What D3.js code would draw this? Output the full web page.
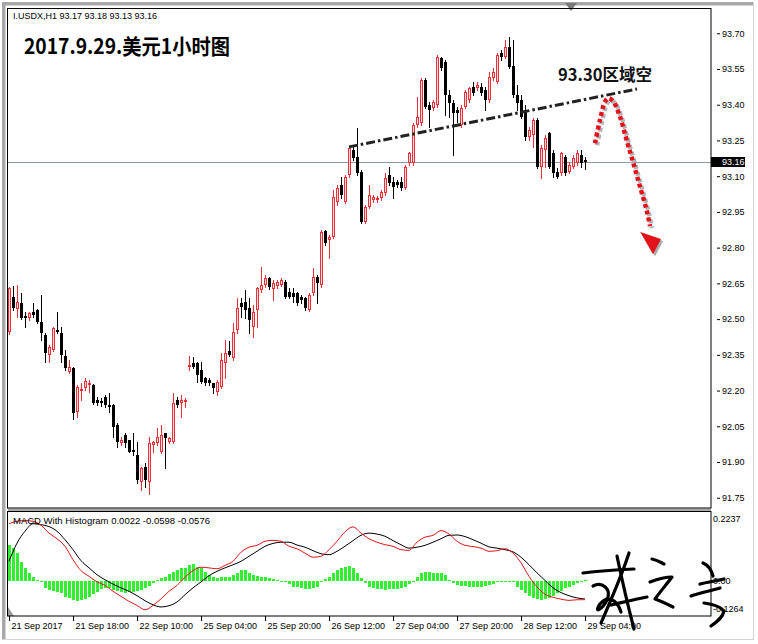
<!DOCTYPE html>
<html><head><meta charset="utf-8">
<script src="https://cdn.jsdelivr.net/npm/d3@7"></script>
<style>body{margin:0;background:#fff}svg{display:block}</style>
</head><body>
<svg id="c" width="758" height="644"></svg>
<script>
// ---------- DATA ----------
const symbolInfo = "I.USDX,H1  93.17 93.18 93.13 93.16";
const chartTitle = "2017.9.29.美元1小时图";
const noteText = "93.30区域空";
const macdLabel = "MACD With Histogram 0.0022 -0.0598 -0.0576";

const openP = [
92.447,92.594,92.542,92.567,92.513,92.504,92.531,92.539,92.489,92.434,
92.350,92.371,92.455,92.441,92.345,92.280,92.294,92.112,92.199,92.210,
92.224,92.224,92.161,92.158,92.175,92.140,92.140,92.056,91.979,92.014,
91.993,91.951,91.930,91.818,91.878,91.818,91.972,91.979,91.944,92.021,
91.986,91.986,92.161,92.147,92.154,92.298,92.315,92.315,92.287,92.252,
92.245,92.231,92.196,92.217,92.315,92.364,92.336,92.455,92.567,92.573,
92.546,92.468,92.539,92.623,92.644,92.672,92.625,92.639,92.644,92.657,
92.615,92.609,92.609,92.594,92.588,92.539,92.609,92.678,92.644,92.871,
92.832,92.846,92.993,93.063,92.993,93.105,93.210,93.182,93.119,92.909,
92.972,93.000,93.000,93.008,93.028,93.105,93.077,93.077,93.077,93.049,
93.154,93.154,93.315,93.322,93.504,93.399,93.385,93.399,93.595,93.581,
93.441,93.406,93.378,93.315,93.392,93.420,93.476,93.469,93.476,93.462,
93.420,93.511,93.497,93.616,93.602,93.644,93.563,93.441,93.420,93.378,
93.266,93.273,93.336,93.140,93.210,93.280,93.196,93.119,93.112,93.182,
93.119,93.140,93.154,93.189,93.17];
const highP = [
92.636,92.639,92.644,92.611,92.531,92.531,92.569,92.542,92.602,92.441,
92.392,92.466,92.531,92.468,92.371,92.329,92.301,92.224,92.231,92.252,
92.245,92.228,92.175,92.168,92.182,92.189,92.143,92.063,92.007,92.021,
91.993,92.021,91.986,91.881,91.895,92.007,91.990,92.043,92.056,92.023,
92.007,92.189,92.175,92.182,92.168,92.343,92.341,92.322,92.322,92.259,
92.252,92.231,92.245,92.357,92.413,92.406,92.483,92.588,92.588,92.623,
92.588,92.560,92.636,92.720,92.686,92.678,92.665,92.665,92.672,92.665,
92.630,92.630,92.615,92.602,92.594,92.609,92.714,92.686,92.874,92.874,
92.853,93.042,93.063,93.098,93.105,93.224,93.231,93.301,93.126,92.979,
93.063,93.021,93.017,93.042,93.112,93.140,93.098,93.084,93.098,93.147,
93.203,93.322,93.434,93.511,93.511,93.413,93.420,93.609,93.602,93.588,
93.462,93.420,93.392,93.399,93.462,93.476,93.497,93.497,93.490,93.476,
93.539,93.553,93.616,93.630,93.672,93.685,93.672,93.483,93.441,93.399,
93.308,93.343,93.343,93.231,93.273,93.287,93.210,93.133,93.203,93.189,
93.161,93.189,93.210,93.210,93.18];
const lowP = [
92.438,92.539,92.510,92.500,92.468,92.497,92.510,92.483,92.413,92.322,
92.322,92.368,92.441,92.322,92.287,92.273,92.080,92.091,92.161,92.203,
92.196,92.144,92.140,92.136,92.133,92.112,92.007,91.965,91.972,91.965,
91.940,91.930,91.811,91.783,91.797,91.766,91.944,91.972,91.937,91.874,
91.979,91.979,92.133,92.091,92.133,92.287,92.295,92.238,92.231,92.224,
92.224,92.189,92.182,92.210,92.252,92.343,92.329,92.441,92.510,92.504,
92.441,92.426,92.468,92.615,92.636,92.625,92.581,92.630,92.639,92.588,
92.588,92.573,92.560,92.567,92.539,92.536,92.602,92.567,92.636,92.811,
92.756,92.841,92.979,93.009,92.986,93.098,93.168,93.105,92.903,92.903,
92.966,92.993,92.992,93.000,93.021,93.063,93.008,93.056,93.042,93.045,
93.147,93.147,93.308,93.315,93.385,93.308,93.378,93.392,93.546,93.357,
93.350,93.189,93.329,93.308,93.385,93.413,93.441,93.462,93.441,93.378,
93.413,93.504,93.490,93.588,93.595,93.553,93.433,93.378,93.345,93.252,
93.252,93.224,93.135,93.091,93.140,93.133,93.098,93.091,93.105,93.105,
93.112,93.133,93.147,93.140,93.13];
const closeP = [
92.630,92.546,92.573,92.504,92.505,92.525,92.518,92.489,92.441,92.359,
92.382,92.462,92.447,92.350,92.294,92.301,92.105,92.214,92.207,92.242,
92.231,92.147,92.149,92.147,92.140,92.130,92.049,91.986,91.993,91.979,
91.944,91.944,91.825,91.874,91.825,91.979,91.986,92.007,92.014,92.000,
92.000,92.147,92.140,92.161,92.161,92.308,92.301,92.266,92.238,92.233,
92.231,92.210,92.238,92.329,92.357,92.350,92.447,92.546,92.552,92.539,
92.497,92.531,92.630,92.644,92.672,92.634,92.651,92.657,92.665,92.592,
92.594,92.594,92.567,92.581,92.546,92.602,92.678,92.651,92.867,92.819,
92.846,93.014,93.049,93.021,93.098,93.217,93.175,93.112,92.909,92.972,
93.021,93.014,93.009,93.035,93.091,93.070,93.056,93.063,93.049,93.140,
93.196,93.315,93.350,93.504,93.392,93.378,93.413,93.602,93.553,93.441,
93.406,93.364,93.364,93.385,93.455,93.469,93.448,93.483,93.448,93.420,
93.518,93.539,93.609,93.602,93.644,93.560,93.441,93.406,93.350,93.266,
93.294,93.336,93.140,93.217,93.259,93.140,93.112,93.098,93.196,93.112,
93.147,93.175,93.196,93.154,93.16];

// MACD (red) and signal (black) lines, read every 2 bars
const lineStep = 2;
const macdLine = [
0.183,0.191,0.193,0.191,0.178,0.153,0.135,0.111,0.068,0.033,
0.015,-0.003,-0.014,-0.033,-0.049,-0.065,-0.078,-0.092,-0.078,-0.057,
-0.033,-0.014,0.012,0.033,0.044,0.042,0.039,0.050,0.063,0.092,
0.108,0.114,0.127,0.130,0.127,0.111,0.103,0.089,0.076,0.079,
0.100,0.127,0.157,0.173,0.153,0.135,0.124,0.116,0.111,0.100,
0.098,0.124,0.140,0.146,0.161,0.150,0.127,0.114,0.110,0.105,
0.095,0.097,0.103,0.089,0.058,0.015,-0.019,-0.042,-0.052,-0.058,
-0.062,-0.060,-0.0598];
const signalLine = [
0.063,0.121,0.159,0.183,0.180,0.174,0.159,0.132,0.100,0.065,
0.042,0.020,0.004,-0.010,-0.022,-0.033,-0.047,-0.063,-0.076,-0.083,
-0.079,-0.067,-0.044,-0.022,-0.003,0.017,0.031,0.042,0.052,0.063,
0.079,0.095,0.111,0.120,0.124,0.124,0.115,0.108,0.097,0.087,
0.084,0.095,0.111,0.129,0.146,0.153,0.150,0.143,0.129,0.116,
0.105,0.108,0.114,0.124,0.135,0.146,0.147,0.142,0.132,0.121,
0.109,0.105,0.100,0.093,0.076,0.052,0.026,0.002,-0.022,-0.037,
-0.047,-0.054,-0.0576];
const histogram = [
0.115,0.104,0.088,0.062,0.040,0.024,0.014,0.003,-0.004,-0.023,
-0.029,-0.032,-0.034,-0.039,-0.050,-0.055,-0.061,-0.064,-0.061,-0.058,
-0.050,-0.043,-0.034,-0.026,-0.021,-0.023,-0.029,-0.032,-0.036,-0.037,
-0.036,-0.034,-0.032,-0.029,-0.023,-0.015,-0.007,0.002,0.009,0.014,
0.021,0.028,0.035,0.040,0.043,0.051,0.053,0.046,0.040,0.030,
0.019,0.014,0.011,0.012,0.014,0.014,0.019,0.024,0.035,0.035,
0.024,0.019,0.016,0.014,0.012,0.009,0.005,0.003,0.000,-0.004,
-0.011,-0.018,-0.019,-0.021,-0.026,-0.027,-0.023,-0.018,-0.004,0.006,
0.014,0.024,0.035,0.040,0.046,0.049,0.040,0.024,0.009,-0.007,
-0.018,-0.023,-0.026,-0.027,-0.028,-0.027,-0.027,-0.026,-0.023,-0.018,
-0.011,0.000,0.014,0.024,0.030,0.028,0.024,0.027,0.026,0.019,
0.003,-0.007,-0.013,-0.015,-0.017,-0.019,-0.019,-0.019,-0.018,-0.016,
-0.013,-0.009,-0.004,-0.002,0.001,0.000,-0.002,-0.018,-0.029,-0.039,
-0.047,-0.053,-0.058,-0.060,-0.058,-0.053,-0.047,-0.039,-0.032,-0.023,
-0.018,-0.013,-0.007,-0.002,0.0022];

const timeTickIdx = [0,16,32,48,64,80,96,112,128,144];
const timeTickLabels = ["21 Sep 2017","21 Sep 18:00","22 Sep 10:00","25 Sep 04:00","25 Sep 20:00",
  "26 Sep 12:00","27 Sep 04:00","27 Sep 20:00","28 Sep 12:00","29 Sep 04:00"];
const priceTicks = [93.70,93.55,93.40,93.25,93.10,92.95,92.80,92.65,92.50,92.35,92.20,92.05,91.90,91.75];
const macdTicks = [0.2237, 0, -0.1264];
const macdTickLabels = ["0.2237","0.00","-0.1264"];
const lastPrice = 93.16;
// annotation: resistance trend line (bar index, price)
const trendLine = [[85, 93.223],[157, 93.466]];
// annotation: projected path (bar index, price)
const arrowPath = [[146.5,93.238],[147.75,93.336],[149,93.413],[149.8,93.427],[151.1,93.413],
  [152.75,93.350],[154.4,93.252],[156.1,93.154],[157.75,93.056],[159.4,92.958],[160.25,92.890]];
const arrowHead = [[157.8,92.866],[163.0,92.836],[161.0,92.772]];

// ---------- SCALES ----------
const svg = d3.select("#c");
const X0 = 8, X1 = 711, Y0 = 8, Y1 = 508, M0 = 512, M1 = 616;
const x = d3.scaleLinear().domain([0, 175]).range([9, 709]);
const y = d3.scaleLinear().domain([91.707, 93.806]).range([Y1, Y0]);
const m = d3.scaleLinear().domain([-0.1119, 0.2237]).range([M1, 511]);
const FONT = "'Liberation Sans', Arial, sans-serif";

svg.append("rect").attr("width",758).attr("height",644).attr("fill","#fff");

// window frame
svg.append("rect").attr("x",2).attr("y",2).attr("width",752).attr("height",3.5).attr("fill","#a8a8a8");
svg.append("rect").attr("x",2).attr("y",2).attr("width",3.5).attr("height",638).attr("fill","#a8a8a8");
svg.append("line").attr("x1",753.5).attr("x2",753.5).attr("y1",2).attr("y2",640).attr("stroke","#d4d4d4");
svg.append("line").attr("x1",2).attr("x2",754).attr("y1",639.5).attr("y2",639.5).attr("stroke","#d4d4d4");
svg.append("polygon").attr("points","565,3 577,3 571,11").attr("fill","#7a7a7a");

// panel splitter
svg.append("rect").attr("x",X0).attr("y",Y1+0.5).attr("width",X1-X0).attr("height",3).attr("fill","#a8a8a8");

// ---------- MAIN PANEL ----------
const main = svg.append("g");
main.append("line").attr("x1",X0).attr("x2",X1).attr("y1",Math.round(y(lastPrice))+0.5).attr("y2",Math.round(y(lastPrice))+0.5)
  .attr("stroke","#8a9aa8").attr("stroke-width",1);

const RED = "#e8303a";
const idx = d3.range(openP.length);
const cg = main.append("g");
idx.forEach(i => {
  const o=openP[i], h=highP[i], l=lowP[i], c=closeP[i];
  const bull = c >= o;
  const cx = Math.round(x(i));
  const col = bull ? RED : "#000";
  cg.append("line").attr("x1",cx+0.5).attr("x2",cx+0.5)
    .attr("y1",Math.round(y(h))).attr("y2",Math.round(y(l))+1).attr("stroke",col).attr("stroke-width",1);
  const top = Math.round(y(Math.max(o,c))), bot = Math.round(y(Math.min(o,c)));
  const bh = Math.max(1, bot-top);
  if (bull && bh >= 3) {
    cg.append("rect").attr("x",cx-0.5).attr("y",top+0.5).attr("width",2).attr("height",bh-1)
      .attr("fill","#fbdada").attr("stroke",col).attr("stroke-width",1);
  } else {
    cg.append("rect").attr("x",cx-1).attr("y",top).attr("width",3).attr("height",bh).attr("fill",col);
  }
});

// trend line annotation
main.append("path")
  .attr("d", d3.line().x(d=>x(d[0])).y(d=>y(d[1]))(trendLine))
  .attr("stroke","#222").attr("stroke-width",3).attr("fill","none")
  .attr("stroke-dasharray","9 3 2.5 3");

// projected dotted arrow
const aLine = d3.line().x(d=>x(d[0])).y(d=>y(d[1])).curve(d3.curveCatmullRom);
main.append("path").attr("d",aLine(arrowPath)).attr("transform","translate(2,2)")
  .attr("stroke","#b4b4b4").attr("stroke-width",4.5).attr("fill","none").attr("stroke-dasharray","4 3");
main.append("path").attr("d",aLine(arrowPath))
  .attr("stroke","#e4121a").attr("stroke-width",4.5).attr("fill","none").attr("stroke-dasharray","4 3");
main.append("polygon").attr("points",arrowHead.map(d=>[x(d[0])+2,y(d[1])+2].join(",")).join(" ")).attr("fill","#a8a8a8");
main.append("polygon").attr("points",arrowHead.map(d=>[x(d[0]),y(d[1])].join(",")).join(" ")).attr("fill","#e4121a");

// texts
main.append("text").attr("x",13).attr("y",19).attr("font-family",FONT).attr("font-size",9).attr("fill","#000").text(symbolInfo);
main.append("text").attr("x",24).attr("y",54).attr("font-family","'Noto Sans CJK SC', sans-serif")
  .attr("font-weight",700).attr("font-size",21).attr("textLength",206).attr("lengthAdjust","spacingAndGlyphs")
  .attr("fill","#000").text(chartTitle);
main.append("text").attr("x",558).attr("y",81).attr("font-family","'Noto Sans CJK SC', sans-serif")
  .attr("font-weight",700).attr("font-size",17).attr("textLength",94).attr("lengthAdjust","spacingAndGlyphs")
  .attr("fill","#111").text(noteText);

// price axis
const yAxis = d3.axisRight(y).tickValues(priceTicks).tickFormat(d3.format(".2f")).tickSize(3).tickPadding(2);
const ya = svg.append("g").attr("transform","translate(717,0)").call(yAxis);
ya.select(".domain").remove();
ya.selectAll("line").attr("stroke","#000");
ya.selectAll("text").attr("font-family",FONT).attr("font-size",9).attr("fill","#000");

// current price tag
const ly = y(lastPrice);
svg.append("rect").attr("x",711).attr("y",Math.round(ly)-5).attr("width",34).attr("height",10).attr("fill","#000");
svg.append("text").attr("x",722).attr("y",ly).attr("dy","0.35em").attr("font-family",FONT).attr("font-size",9)
  .attr("fill","#fff").text(d3.format(".2f")(lastPrice));

// ---------- MACD PANEL ----------
const mg = svg.append("g");
histogram.forEach((v,i) => {
  const cx = Math.round(x(i));
  const y0 = m(0), yv = m(v);
  const top = Math.min(y0, yv), hh = Math.max(1, Math.abs(yv - y0));
  mg.append("rect").attr("x",cx-1).attr("y",Math.round(top)).attr("width",3).attr("height",Math.round(hh) || 1)
    .attr("fill","#33ee33");
});
const ml = d3.line().x((d,i)=>x(i*lineStep)).y(d=>m(d)).curve(d3.curveMonotoneX);
mg.append("path").attr("d",ml(signalLine)).attr("stroke","#000").attr("stroke-width",1).attr("fill","none");
mg.append("path").attr("d",ml(macdLine)).attr("stroke","#e01818").attr("stroke-width",1).attr("fill","none");
mg.append("text").attr("x",13).attr("y",524).attr("font-family",FONT).attr("font-size",9.5).attr("fill","#000").text(macdLabel);
svg.append("polygon").attr("points","8,607 8,616 14,616").attr("fill","#9a9a9a");

// MACD axis labels
macdTicks.forEach((v,k) => {
  let yy = m(v);
  yy = Math.max(519, Math.min(609, yy));
  svg.append("text").attr("x",713).attr("y",yy).attr("dy","0.35em").attr("font-family",FONT).attr("font-size",9)
    .attr("fill","#000").text(macdTickLabels[k]);
});

// panel frames
svg.append("rect").attr("x",X0-0.5).attr("y",Y0+0.5).attr("width",X1-X0+0.5).attr("height",Y1-Y0-0.5)
  .attr("fill","none").attr("stroke","#000");
svg.append("rect").attr("x",X0-0.5).attr("y",M0-0.5).attr("width",X1-X0+0.5).attr("height",M1-M0+0.5)
  .attr("fill","none").attr("stroke","#000");

// time axis
const xAxis = d3.axisBottom(x).tickValues(timeTickIdx).tickFormat((d,k)=>timeTickLabels[k]).tickSize(5).tickPadding(2);
const xa = svg.append("g").attr("transform",`translate(0,${M1})`).call(xAxis);
xa.select(".domain").remove();
xa.selectAll("line").attr("stroke","#000");
xa.selectAll("text").attr("font-family",FONT).attr("font-size",9).attr("fill","#000")
  .attr("text-anchor","start").attr("x",2).attr("y",7);

// ---------- SIGNATURE ----------
const sig = [
 "M583,573 C600,571 615,570 634,569",
 "M629,553 C622,575 611,600 601,623",
 "M617,556 C622,580 628,606 634,629",
 "M593,586 C602,581 612,589 607,600 C602,610 593,614 600,604 C607,595 617,599 621,612",
 "M611,605 C624,602 636,599 647,597",
 "M652,559 C657,560 660,562 664,564",
 "M650,582 C658,579 665,577 672,577 C666,585 660,592 655,599 C661,601 667,604 673,607",
 "M691,596 C700,593 710,591 720,588",
 "M703,563 C708,565 711,569 713,576",
 "M700,584 C708,582 716,581 724,579",
 "M704,603 C712,604 720,606 724,611 C723,617 718,621 711,626"
];
const sg = svg.append("g").attr("fill","none").attr("stroke","#000").attr("stroke-width",3.2)
  .attr("stroke-linecap","round").attr("stroke-linejoin","round");
sig.forEach(p => sg.append("path").attr("d",p));
</script>
</body></html>
